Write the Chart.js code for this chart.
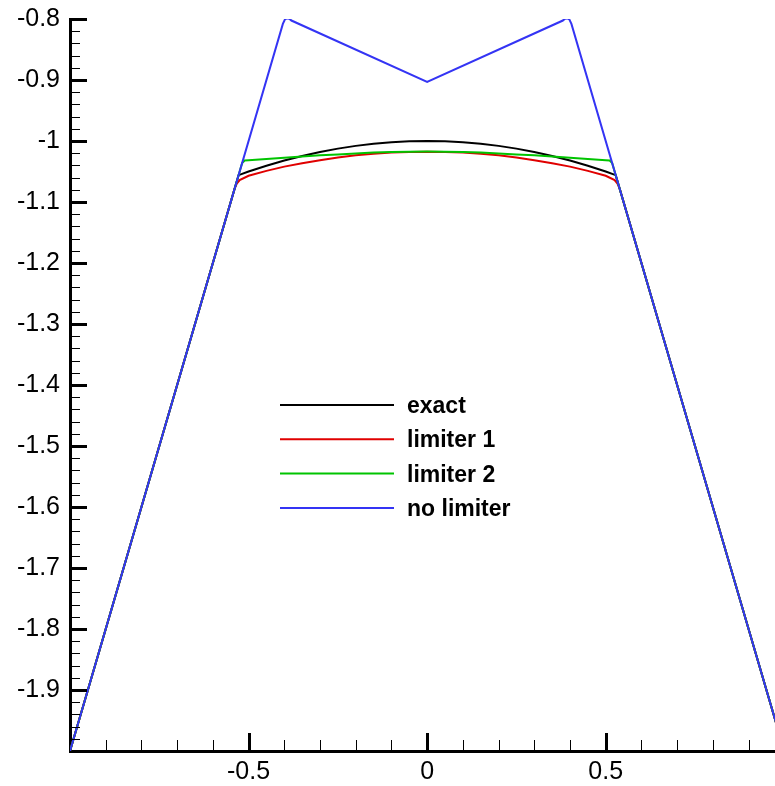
<!DOCTYPE html>
<html>
<head>
<meta charset="utf-8">
<script src="https://cdn.jsdelivr.net/npm/chart.js@4/dist/chart.umd.min.js"></script>
<style>
  html, body { margin: 0; padding: 0; background: #fff; }
  #wrap { width: 775px; height: 786px; }
</style>
</head>
<body>
<div id="wrap"><canvas id="c" width="775" height="786"></canvas></div>
<script>
// ---- data ----
const seriesNames = ['exact', 'limiter 1', 'limiter 2', 'no limiter'];

const exactX = [-1, -0.528, -0.5, -0.45, -0.4, -0.35, -0.3, -0.25, -0.2, -0.15, -0.1, -0.05, 0,
                0.05, 0.1, 0.15, 0.2, 0.25, 0.3, 0.35, 0.4, 0.45, 0.5, 0.528, 1];
const exactY = [-2, -1.056, -1.05, -1.0405, -1.032, -1.0245, -1.018, -1.0125, -1.008, -1.0045, -1.002, -1.0005, -1,
                -1.0005, -1.002, -1.0045, -1.008, -1.0125, -1.018, -1.0245, -1.032, -1.0405, -1.05, -1.056, -2];

const lim1X = [-1, -0.539, -0.533, -0.525, -0.5, -0.45, -0.4, -0.35, -0.3, -0.25, -0.2, -0.15, -0.1, -0.05, 0,
               0.05, 0.1, 0.15, 0.2, 0.25, 0.3, 0.35, 0.4, 0.45, 0.5, 0.525, 0.533, 0.539, 1];
const lim1Y = [-2, -1.078, -1.070, -1.064, -1.057, -1.049, -1.042, -1.0365, -1.0315, -1.027, -1.0235, -1.021, -1.019, -1.018, -1.0175,
               -1.018, -1.019, -1.021, -1.0235, -1.027, -1.0315, -1.0365, -1.042, -1.049, -1.057, -1.064, -1.070, -1.078, -2];

const lim2X = [-1, -0.518, -0.511, -0.5, -0.45, -0.4, -0.35, -0.3, -0.25, -0.2, -0.15, -0.1, -0.05, 0,
               0.05, 0.1, 0.15, 0.2, 0.25, 0.3, 0.35, 0.4, 0.45, 0.5, 0.511, 0.518, 1];
const lim2Y = [-2, -1.036, -1.032, -1.0315, -1.0295, -1.0275, -1.0255, -1.0235, -1.022, -1.0205, -1.019, -1.018, -1.0175, -1.0172,
               -1.0175, -1.018, -1.019, -1.0205, -1.022, -1.0235, -1.0255, -1.0275, -1.0295, -1.0315, -1.032, -1.036, -2];

const noLimX = [-1, -0.404, -0.398, -0.392, -0.386, -0.38, 0, 0.38, 0.386, 0.392, 0.398, 0.404, 1];
const noLimY = [-2, -0.808, -0.8005, -0.799, -0.7995, -0.8025, -0.903, -0.8025, -0.7995, -0.799, -0.8005, -0.808, -2];

const xTickValues = [-0.5, 0, 0.5];
const yTickValues = [-1.9, -1.8, -1.7, -1.6, -1.5, -1.4, -1.3, -1.2, -1.1, -1, -0.9, -0.8];

// ---- helpers ----
const toPts = (xs, ys) => xs.map((x, i) => ({ x: x, y: ys[i] }));
const fmt = v => String(Math.round(v * 10) / 10);
const FONT = '"Liberation Sans", Arial, sans-serif';

const axisTicks = {
  id: 'axisTicks',
  afterDraw(chart) {
    const { ctx, chartArea: a, scales: { x, y } } = chart;
    ctx.save();
    ctx.strokeStyle = '#000';
    ctx.lineCap = 'butt';
    for (let k = -99; k <= -40; k++) {
      const major = (k % 5 === 0);
      const py = Math.round(y.getPixelForValue(k / 50)) + 0.5;
      ctx.lineWidth = major ? 3 : 1;
      ctx.beginPath();
      ctx.moveTo(a.left, py);
      ctx.lineTo(a.left + (major ? 17 : 10), py);
      ctx.stroke();
    }
    for (let k = -9; k <= 9; k++) {
      const major = (k % 5 === 0);
      const px = Math.round(x.getPixelForValue(k / 10)) + 0.5;
      ctx.lineWidth = major ? 3 : 1;
      ctx.beginPath();
      ctx.moveTo(px, a.bottom);
      ctx.lineTo(px, a.bottom - (major ? 18 : 11));
      ctx.stroke();
    }
    ctx.restore();
  }
};

const inLegend = {
  id: 'inLegend',
  afterDraw(chart, args, o) {
    const ctx = chart.ctx;
    ctx.save();
    ctx.font = 'bold ' + o.fontSize + 'px ' + FONT;
    ctx.fillStyle = '#000';
    ctx.textAlign = 'left';
    ctx.textBaseline = 'alphabetic';
    chart.data.datasets.forEach((ds, i) => {
      const yy = o.top + i * o.rowGap;
      ctx.strokeStyle = ds.borderColor;
      ctx.lineWidth = 2;
      ctx.beginPath();
      ctx.moveTo(o.x1, yy);
      ctx.lineTo(o.x2, yy);
      ctx.stroke();
      ctx.fillText(ds.label, o.textX, yy + o.baselineShift);
    });
    ctx.restore();
  }
};

new Chart(document.getElementById('c').getContext('2d'), {
  type: 'line',
  data: {
    datasets: [
      { label: seriesNames[0], data: toPts(exactX, exactY), borderColor: '#000000', order: 3 },
      { label: seriesNames[1], data: toPts(lim1X, lim1Y), borderColor: '#e00000', order: 2 },
      { label: seriesNames[2], data: toPts(lim2X, lim2Y), borderColor: '#00c400', order: 1 },
      { label: seriesNames[3], data: toPts(noLimX, noLimY), borderColor: '#3434f4', order: 0 }
    ]
  },
  options: {
    responsive: false,
    animation: false,
    devicePixelRatio: 1,
    elements: { point: { radius: 0 }, line: { borderWidth: 2, tension: 0, fill: false } },
    layout: { padding: { top: 19, right: 0, left: 0, bottom: 0 } },
    plugins: {
      legend: { display: false },
      tooltip: { enabled: false },
      inLegend: { x1: 280, x2: 394, textX: 407, top: 405, rowGap: 34.3, baselineShift: 8, fontSize: 23 }
    },
    scales: {
      x: {
        type: 'linear', position: 'bottom', min: -1, max: 0.974,
        afterBuildTicks: s => { s.ticks = xTickValues.map(v => ({ value: v })); },
        afterFit: s => { s.height = 35; s.paddingLeft = 0; s.paddingRight = 0; },
        grid: { display: true, drawOnChartArea: false, drawTicks: false },
        border: { display: true, width: 3, color: '#000' },
        ticks: { padding: 6, color: '#000', maxRotation: 0, autoSkip: false,
                 font: { family: FONT, size: 25 }, callback: v => fmt(v) }
      },
      y: {
        type: 'linear', position: 'left', min: -2, max: -0.8,
        afterBuildTicks: s => { s.ticks = yTickValues.map(v => ({ value: v })); },
        afterFit: s => { s.width = 70; s.paddingTop = 0; s.paddingBottom = 0; },
        grid: { display: true, drawOnChartArea: false, drawTicks: false },
        border: { display: true, width: 3, color: '#000' },
        ticks: { padding: 10, color: '#000', autoSkip: false,
                 font: { family: FONT, size: 25 }, callback: v => fmt(v) }
      }
    }
  },
  plugins: [axisTicks, inLegend]
});
</script>
</body>
</html>
